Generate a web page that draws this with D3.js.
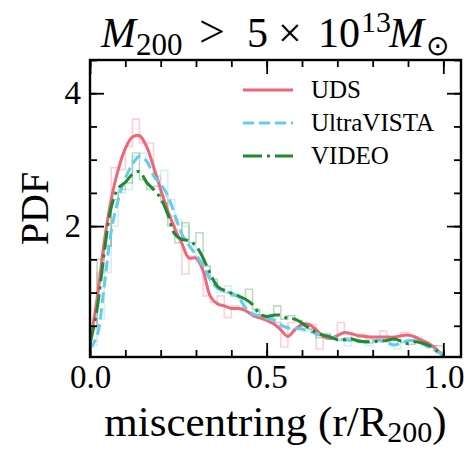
<!DOCTYPE html>
<html>
<head>
<meta charset="utf-8">
<script src="https://cdn.jsdelivr.net/npm/d3@7"></script>
<style>
  html, body { margin: 0; padding: 0; background: #fff; }
  svg { display: block; }
  text { font-family: "Liberation Serif", "Times New Roman", serif; fill: #000; }
</style>
</head>
<body>
<svg id="chart" width="469" height="450"></svg>
<script>
// KDE evaluation grid (r/R200) shared by the three smoothed curves
const kdeGrid = d3.range(51).map(i => +(i * 0.02).toFixed(2));

const udsKde = [0.25, 0.90, 1.75, 2.40, 2.85, 3.17, 3.34, 3.36, 3.20, 2.89,
  2.55, 2.23, 1.96, 1.74, 1.52, 1.52, 1.33, 0.95, 0.83, 0.80,
  0.76, 0.76, 0.73, 0.66, 0.62, 0.58, 0.53, 0.44, 0.34, 0.44,
  0.52, 0.52, 0.44, 0.34, 0.31, 0.35, 0.40, 0.38, 0.35, 0.34,
  0.33, 0.33, 0.33, 0.33, 0.35, 0.36, 0.33, 0.28, 0.23, 0.15, 0.05];

const ultravistaKde = [0.15, 0.35, 1.09, 1.92, 2.40, 2.72, 2.93, 3.05, 2.98, 2.76,
  2.63, 2.46, 2.17, 1.88, 1.71, 1.57, 1.40, 1.20, 1.07, 1.02,
  0.99, 0.93, 0.77, 0.68, 0.65, 0.61, 0.59, 0.51, 0.47, 0.46,
  0.45, 0.42, 0.38, 0.35, 0.33, 0.31, 0.29, 0.28, 0.26, 0.26,
  0.27, 0.28, 0.25, 0.21, 0.24, 0.28, 0.27, 0.23, 0.17, 0.12, 0.05];

const videoKde = [0.22, 0.75, 1.59, 2.28, 2.57, 2.66, 2.78, 2.82, 2.66, 2.55,
  2.42, 2.18, 1.88, 1.80, 1.78, 1.70, 1.52, 1.29, 1.10, 1.03,
  0.99, 0.95, 0.90, 0.82, 0.68, 0.64, 0.66, 0.66, 0.61, 0.60,
  0.54, 0.46, 0.40, 0.36, 0.33, 0.29, 0.29, 0.30, 0.27, 0.26,
  0.26, 0.27, 0.28, 0.30, 0.27, 0.23, 0.26, 0.24, 0.20, 0.13, 0.05];

// Normalised histograms, 50 bins of width 0.02 on [0, 1]
const binEdges = d3.range(51).map(i => +(i * 0.02).toFixed(2));

const udsHist = [0.45, 1.30, 1.70, 2.88, 2.85, 3.20, 3.61, 3.25, 3.25, 2.75,
  2.45, 2.15, 1.95, 1.28, 1.55, 1.50, 0.95, 0.85, 0.95, 0.62,
  0.80, 0.78, 0.70, 0.63, 0.66, 0.60, 0.55, 0.18, 0.55, 0.58,
  0.50, 0.52, 0.15, 0.35, 0.30, 0.55, 0.38, 0.30, 0.37, 0.30,
  0.32, 0.42, 0.30, 0.32, 0.40, 0.35, 0.30, 0.25, 0.20, 0.10];

const ultravistaHist = [0.20, 0.60, 1.30, 2.00, 2.50, 2.55, 3.05, 3.10, 2.95, 2.70,
  2.84, 2.40, 2.10, 2.00, 1.70, 1.45, 1.40, 1.15, 1.00, 1.10,
  0.95, 0.90, 0.70, 0.72, 0.62, 0.60, 0.55, 0.50, 0.45, 0.48,
  0.42, 0.45, 0.35, 0.36, 0.32, 0.30, 0.20, 0.30, 0.25, 0.20,
  0.28, 0.30, 0.25, 0.15, 0.25, 0.27, 0.33, 0.22, 0.17, 0.10];

const videoHist = [0.50, 1.50, 1.70, 2.40, 2.55, 2.65, 3.10, 2.70, 2.55, 2.60,
  2.35, 2.00, 1.75, 2.05, 1.75, 1.90, 1.40, 1.20, 1.05, 1.00,
  0.95, 0.92, 1.05, 0.75, 0.65, 0.62, 0.80, 0.60, 0.65, 0.58,
  0.50, 0.45, 0.32, 0.38, 0.30, 0.28, 0.32, 0.28, 0.26, 0.24,
  0.28, 0.26, 0.30, 0.28, 0.25, 0.22, 0.28, 0.24, 0.20, 0.20];

const seriesNames = ["UDS", "UltraVISTA", "VIDEO"];
const seriesColors = ["#ee6677", "#66ccee", "#228833"];

const xMajorTicks = [0, 0.5, 1.0];
const xMajorLabels = ["0.0", "0.5", "1.0"];
const xMinorTicks = d3.range(0, 1.05, 0.1).map(v => +v.toFixed(2));
const yMajorTicks = [2, 4];
const yMajorLabels = ["2", "4"];
const yMinorTicks = d3.range(0.5, 4.6, 0.5).map(v => +v.toFixed(2));

// ---- layout ----
const svg = d3.select("#chart");
const plot = { left: 90, right: 461, top: 60, bottom: 357 };

const x = d3.scaleLinear().domain([0, 1.05]).range([plot.left, plot.right]);
const y = d3.scaleLinear().domain([0.03, 4.5]).range([plot.bottom, plot.top]);

const series = [
  { name: seriesNames[0], color: seriesColors[0], kde: udsKde, hist: udsHist, dash: null },
  { name: seriesNames[1], color: seriesColors[1], kde: ultravistaKde, hist: ultravistaHist, dash: "11,5" },
  { name: seriesNames[2], color: seriesColors[2], kde: videoKde, hist: videoHist, dash: "19,5,3,5" }
];

svg.append("defs").append("clipPath").attr("id", "plotClip")
  .append("rect")
  .attr("x", plot.left).attr("y", plot.top)
  .attr("width", plot.right - plot.left).attr("height", plot.bottom - plot.top);

const body = svg.append("g").attr("clip-path", "url(#plotClip)");

// step outlines of the histograms
series.forEach(s => {
  const pts = [[binEdges[0], 0]];
  s.hist.forEach((v, i) => {
    pts.push([binEdges[i], v]);
    pts.push([binEdges[i + 1], v]);
  });
  pts.push([binEdges[binEdges.length - 1], 0]);
  body.append("path")
    .attr("d", d3.line().x(d => x(d[0])).y(d => y(d[1]))(pts))
    .attr("fill", "none")
    .attr("stroke", s.color)
    .attr("stroke-opacity", 0.3)
    .attr("stroke-width", 1.6);
});

// smoothed density curves
const curve = d3.line()
  .x((d, i) => x(kdeGrid[i]))
  .y(d => y(d))
  .curve(d3.curveCatmullRom.alpha(0.5));

series.forEach(s => {
  body.append("path")
    .attr("d", curve(s.kde))
    .attr("fill", "none")
    .attr("stroke", s.color)
    .attr("stroke-width", 3)
    .attr("stroke-dasharray", s.dash)
    .attr("stroke-linejoin", "round");
});

// ---- axes: inward ticks on all four sides ----
function addAxis(axisGen, transform, labels) {
  const g = svg.append("g").attr("transform", transform).call(axisGen);
  g.select(".domain").remove();
  g.selectAll(".tick line").attr("stroke", "#000").attr("stroke-width", 1.8);
  if (!labels) g.selectAll(".tick text").remove();
  return g;
}

const majorLen = 14, minorLen = 7;

// bottom
addAxis(d3.axisBottom(x).tickValues(xMinorTicks).tickSize(-minorLen).tickFormat(""), `translate(0,${plot.bottom})`, false);
const xb = addAxis(d3.axisBottom(x).tickValues(xMajorTicks).tickSize(-majorLen)
  .tickFormat((d, i) => xMajorLabels[i]).tickPadding(8), `translate(0,${plot.bottom})`, true);
xb.selectAll(".tick text").attr("font-size", 33).attr("font-family", "Liberation Serif, serif").attr("fill", "#000");
// top
addAxis(d3.axisTop(x).tickValues(xMinorTicks).tickSize(-minorLen).tickFormat(""), `translate(0,${plot.top})`, false);
addAxis(d3.axisTop(x).tickValues(xMajorTicks).tickSize(-majorLen).tickFormat(""), `translate(0,${plot.top})`, false);
// left
addAxis(d3.axisLeft(y).tickValues(yMinorTicks).tickSize(-minorLen).tickFormat(""), `translate(${plot.left},0)`, false);
const yl = addAxis(d3.axisLeft(y).tickValues(yMajorTicks).tickSize(-majorLen)
  .tickFormat((d, i) => yMajorLabels[i]).tickPadding(9), `translate(${plot.left},0)`, true);
yl.selectAll(".tick text").attr("font-size", 33).attr("font-family", "Liberation Serif, serif").attr("fill", "#000")
  .attr("x", -9);
// right
addAxis(d3.axisRight(y).tickValues(yMinorTicks).tickSize(-minorLen).tickFormat(""), `translate(${plot.right},0)`, false);
addAxis(d3.axisRight(y).tickValues(yMajorTicks).tickSize(-majorLen).tickFormat(""), `translate(${plot.right},0)`, false);

// frame
svg.append("rect")
  .attr("x", plot.left).attr("y", plot.top)
  .attr("width", plot.right - plot.left).attr("height", plot.bottom - plot.top)
  .attr("fill", "none").attr("stroke", "#000").attr("stroke-width", 2.4);

// ---- legend ----
const legend = svg.append("g");
series.forEach((s, i) => {
  const ly = 90 + i * 33;
  legend.append("line")
    .attr("x1", 243).attr("x2", 293).attr("y1", ly).attr("y2", ly)
    .attr("stroke", s.color).attr("stroke-width", 3)
    .attr("stroke-dasharray", s.dash);
  legend.append("text")
    .attr("x", 311).attr("y", ly + 8)
    .attr("font-size", 25)
    .text(s.name);
});

// ---- axis titles ----
const xt = svg.append("text")
  .attr("x", (plot.left + plot.right) / 2).attr("y", 436)
  .attr("text-anchor", "middle").attr("font-size", 43);
xt.append("tspan").text("miscentring (r/R");
xt.append("tspan").attr("font-size", 30).attr("dy", 6).text("200");
xt.append("tspan").attr("dy", -6).text(")");

svg.append("text")
  .attr("transform", `translate(48,${(plot.top + plot.bottom) / 2}) rotate(-90)`)
  .attr("text-anchor", "middle").attr("font-size", 40)
  .text("PDF");

// title: M200 > 5 x 10^13 Msun, pieces placed along the baseline
const titleBase = 47;
const title = svg.append("text").attr("y", titleBase).attr("font-size", 42);
title.append("tspan").attr("x", 101).attr("font-style", "italic").text("M");
title.append("tspan").attr("x", 136).attr("y", titleBase + 8).attr("font-size", 31).text("200");
title.append("tspan").attr("x", 199).attr("y", titleBase).attr("font-size", 46).text(">");
title.append("tspan").attr("x", 247).attr("font-size", 42).text("5");
title.append("tspan").attr("x", 278).text("×");
title.append("tspan").attr("x", 318).text("10");
title.append("tspan").attr("x", 361).attr("y", titleBase - 15).attr("font-size", 30).text("13");
title.append("tspan").attr("x", 389).attr("y", titleBase).attr("font-style", "italic").text("M");
title.append("tspan").attr("x", 426).attr("y", titleBase + 8).attr("font-size", 28).text("⊙");
</script>
</body>
</html>
